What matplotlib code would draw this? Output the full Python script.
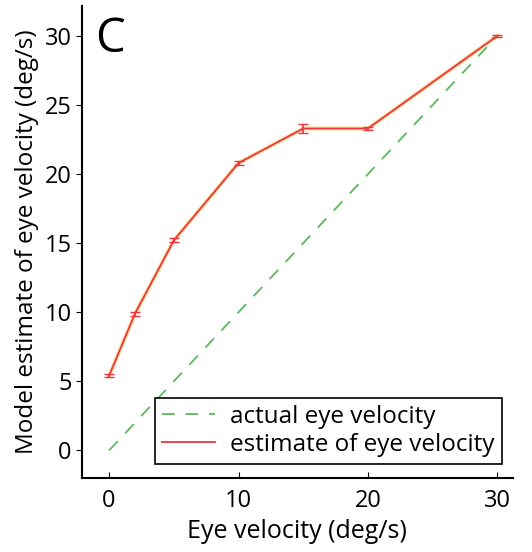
import numpy as np
import matplotlib
matplotlib.use('Agg')
import matplotlib.pyplot as plt
from matplotlib.lines import Line2D

eye_vel = [0, 2, 5, 10, 15, 20, 30]
estimate = [5.4, 9.9, 15.2, 20.8, 23.3, 23.3, 30.0]
estimate_err = [0.1, 0.15, 0.15, 0.15, 0.3, 0.1, 0.1]
actual = [0, 30]

plt.rcParams['font.family'] = ['Open Sans', 'DejaVu Sans']

fig = plt.figure(figsize=(5.32, 5.52), dpi=100)
ax = fig.add_axes([0.154, 0.134, 0.81, 0.856])

green = '#5cb85c'
red = '#ee3344'
ax.plot(actual, actual, color=green, ls=(0, (7, 6)), lw=1.3)
ax.plot(eye_vel, estimate, color='#f5c842', lw=3.0, alpha=0.5)
ax.errorbar(eye_vel, estimate, yerr=estimate_err, color=red, lw=1.3,
            capsize=3.5, elinewidth=1.2)

ax.set_xlim(-2.1, 31.2)
ax.set_ylim(-2.0, 32.2)
ax.set_xticks([0, 10, 20, 30])
ax.set_yticks([0, 5, 10, 15, 20, 25, 30])
ax.tick_params(axis='x', direction='in', length=4, labelsize=17, pad=8)
ax.tick_params(axis='y', direction='out', length=4, labelsize=17)
for s in ['top', 'right']:
    ax.spines[s].set_visible(False)
for s in ['left', 'bottom']:
    ax.spines[s].set_linewidth(1.5)

ax.set_xlabel('Eye velocity (deg/s)', fontsize=18)
ax.set_ylabel('Model estimate of eye velocity (deg/s)', fontsize=17.5)

handles = [Line2D([], [], color=green, ls=(0, (7, 6)), lw=1.3),
           Line2D([], [], color=red, lw=1.3)]
labels = ['actual eye velocity', 'estimate of eye velocity']
leg = ax.legend(handles, labels, loc='lower right', bbox_to_anchor=(0.974, 0.03),
                borderaxespad=0, fontsize=17.5, fancybox=False, framealpha=1,
                borderpad=0.3, handlelength=2.2, labelspacing=0.15,
                handletextpad=0.6)
leg.get_frame().set_edgecolor('black')
leg.get_frame().set_linewidth(1.2)

fig.text(0.178, 0.905, 'C', fontsize=34)

fig.savefig('out.png', dpi=100)
